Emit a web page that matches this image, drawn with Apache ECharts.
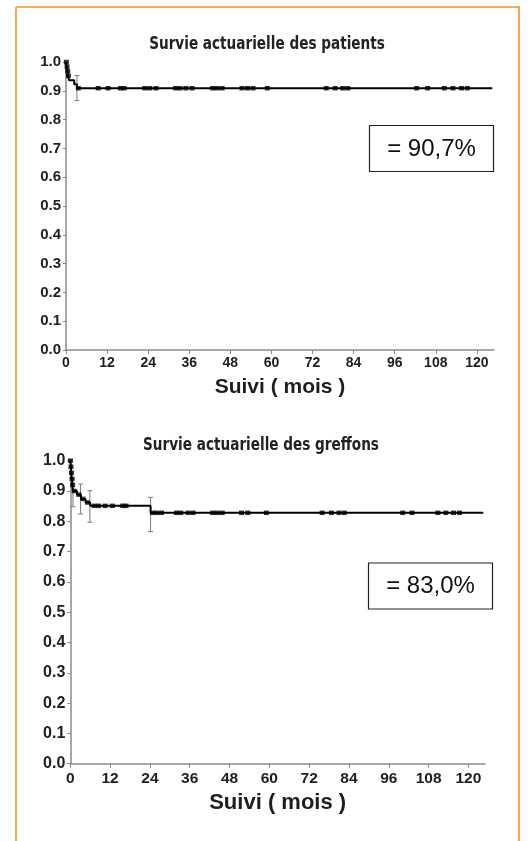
<!DOCTYPE html>
<html><head><meta charset="utf-8">
<script src="https://cdn.jsdelivr.net/npm/echarts@6/dist/echarts.min.js"></script>
<style>html,body{margin:0;padding:0;background:#fff}#c{width:529px;height:841px}</style>
</head><body><div id="c"></div>
<script>
// ---- Data ----
const xTicks = [0, 12, 24, 36, 48, 60, 72, 84, 96, 108, 120];

// Patients survival (Kaplan-Meier steps)
const patientTimes = [0, 0.2, 0.4, 0.6, 0.9, 2.4, 3.2, 124.5];
const patientSurv  = [1.0, 0.984, 0.968, 0.952, 0.937, 0.923, 0.909, 0.909];
const patientCensor = [0.1, 0.3, 0.5, 0.7, 3.6, 9.4, 12.3, 15.9, 17.0, 23.0, 24.5, 26.3, 32.0, 33.3, 35.0, 36.8,
  42.8, 44.1, 45.6, 51.4, 53.0, 54.6, 58.8, 76.0, 78.6, 80.8, 82.3, 102.4, 105.6, 110.5, 113.0, 115.5, 117.2];
const patientErrT  = [3.2];
const patientErrLo = [0.866];
const patientErrHi = [0.953];
const patientLabel = '= 90,7%';

// Grafts survival
const graftTimes = [0, 0.15, 0.3, 0.45, 0.6, 0.8, 2.0, 3.2, 4.6, 6.0, 24.2, 124.5];
const graftSurv  = [1.0, 0.98, 0.96, 0.94, 0.92, 0.90, 0.888, 0.874, 0.862, 0.851, 0.828, 0.828];
const graftCensor = [0.05, 0.2, 0.35, 0.5, 0.7, 1.2, 2.6, 3.8, 5.2, 7.2, 8.5, 10.5, 12.7, 15.8, 16.8,
  24.8, 26.0, 27.5, 32.0, 33.3, 35.5, 37.0, 42.9, 44.3, 45.8, 51.6, 53.5, 59.1, 75.9, 78.7, 81.0, 82.6,
  100.2, 103.0, 110.8, 113.2, 115.5, 117.3];
const graftErrT  = [0.8, 3.1, 5.9, 24.2];
const graftErrLo = [0.848, 0.824, 0.797, 0.766];
const graftErrHi = [0.940, 0.923, 0.901, 0.879];
const graftLabel = '= 83,0%';

const titles = ['Survie actuarielle des patients', 'Survie actuarielle des greffons'];
const xName = 'Suivi ( mois )';

// ---- helpers ----
function survAt(times, surv, t) {
  let v = surv[0];
  for (let i = 0; i < times.length; i++) if (times[i] <= t) v = surv[i];
  return v;
}
function errRender(params, api) {
  const x = api.value(0), lo = api.value(1), hi = api.value(2);
  const a = api.coord([x, lo]), b = api.coord([x, hi]);
  const c = 2.5, st = {stroke: '#7a7a7a', lineWidth: 1};
  return {type: 'group', children: [
    {type: 'line', shape: {x1: a[0], y1: a[1], x2: b[0], y2: b[1]}, style: st},
    {type: 'line', shape: {x1: a[0]-c, y1: a[1], x2: a[0]+c, y2: a[1]}, style: st},
    {type: 'line', shape: {x1: b[0]-c, y1: b[1], x2: b[0]+c, y2: b[1]}, style: st}
  ]};
}
const axisCol = '#8a8a8a', textCol = '#1e1e1e';
const FONT = "'Liberation Sans', Arial, sans-serif";

function xAxisCfg(gi, fs, nfs, gap, margin) {
  return {type: 'value', gridIndex: gi, min: 0, max: 125, interval: 12,
    name: xName, nameLocation: 'middle', nameGap: gap,
    nameTextStyle: {fontFamily: FONT, fontWeight: 'bold', fontSize: nfs, color: textCol},
    axisLine: {lineStyle: {color: axisCol, width: 1.5}},
    axisTick: {show: true, length: 4, lineStyle: {color: axisCol, width: 1}, customValues: xTicks},
    axisLabel: {fontFamily: FONT, fontWeight: 'bold', fontSize: fs, color: textCol, margin: margin, customValues: xTicks},
    splitLine: {show: false}};
}
function yAxisCfg(gi, fs) {
  return {type: 'value', gridIndex: gi, min: 0, max: 1, interval: 0.1,
    axisLine: {show: true, lineStyle: {color: axisCol, width: 1.5}},
    axisTick: {show: true, length: 3, lineStyle: {color: axisCol, width: 1}},
    axisLabel: {fontFamily: FONT, fontWeight: 'bold', fontSize: fs, color: textCol, margin: 5,
      formatter: v => v.toFixed(1)},
    splitLine: {show: false}};
}
function seriesFor(gi, times, surv, censor, eT, eLo, eHi) {
  return [
    {type: 'line', xAxisIndex: gi, yAxisIndex: gi, step: 'end', showSymbol: false, silent: true,
      data: times.map((t, i) => [t, surv[i]]), lineStyle: {color: '#000', width: 2}, z: 3},
    {type: 'scatter', xAxisIndex: gi, yAxisIndex: gi, symbol: 'rect', symbolSize: [5, 4.5],
      itemStyle: {color: '#000'}, data: censor.map(t => [t, survAt(times, surv, t)]), z: 4},
    {type: 'custom', xAxisIndex: gi, yAxisIndex: gi, renderItem: errRender, z: 2,
      encode: {x: 0, y: [1, 2]}, data: eT.map((t, i) => [t, eLo[i], eHi[i]])}
  ];
}

const chart = echarts.init(document.getElementById('c'), null, {renderer: 'canvas'});
const orange = '#f5921e';
const titleFont = "bold 17px 'DejaVu Sans Condensed', 'Liberation Sans Narrow', sans-serif";
const boxFont = "24px 'Liberation Sans', Arial, sans-serif";
const tStyle = (text, font, fill) => ({text, font, fill, align: 'center', verticalAlign: 'middle', textAlign: 'center', textVerticalAlign: 'middle'});
chart.setOption({
  animation: false,
  backgroundColor: '#fff',
  grid: [
    {left: 66, right: 35, top: 62, height: 288, containLabel: false},
    {left: 70.3, right: 44, top: 460.7, height: 303, containLabel: false}
  ],
  xAxis: [xAxisCfg(0, 14, 21, 27, 6), xAxisCfg(1, 15.5, 22, 28, 7)],
  yAxis: [yAxisCfg(0, 15), yAxisCfg(1, 16)],
  series: [].concat(
    seriesFor(0, patientTimes, patientSurv, patientCensor, patientErrT, patientErrLo, patientErrHi),
    seriesFor(1, graftTimes, graftSurv, graftCensor, graftErrT, graftErrLo, graftErrHi)
  ),
  graphic: [
    {type: 'line', shape: {x1: 16, y1: 7, x2: 520, y2: 7}, style: {stroke: orange, lineWidth: 1.6}},
    {type: 'line', shape: {x1: 16, y1: 7, x2: 16, y2: 841}, style: {stroke: orange, lineWidth: 1.6}},
    {type: 'line', shape: {x1: 519, y1: 7, x2: 519, y2: 841}, style: {stroke: orange, lineWidth: 1.6}},
    {type: 'text', x: 267, y: 45, scaleX: 0.89, style: tStyle(titles[0], titleFont, '#222')},
    {type: 'text', x: 261, y: 446, scaleX: 0.89, style: tStyle(titles[1], titleFont, '#222')},
    {type: 'rect', shape: {x: 369.5, y: 125.5, width: 124, height: 46}, style: {fill: '#fff', stroke: '#222', lineWidth: 1.2}},
    {type: 'text', x: 431.5, y: 149, style: tStyle(patientLabel, boxFont, '#111')},
    {type: 'rect', shape: {x: 368.5, y: 563, width: 124, height: 46}, style: {fill: '#fff', stroke: '#222', lineWidth: 1.2}},
    {type: 'text', x: 430.5, y: 586.5, style: tStyle(graftLabel, boxFont, '#111')}
  ]
});
</script></body></html>
